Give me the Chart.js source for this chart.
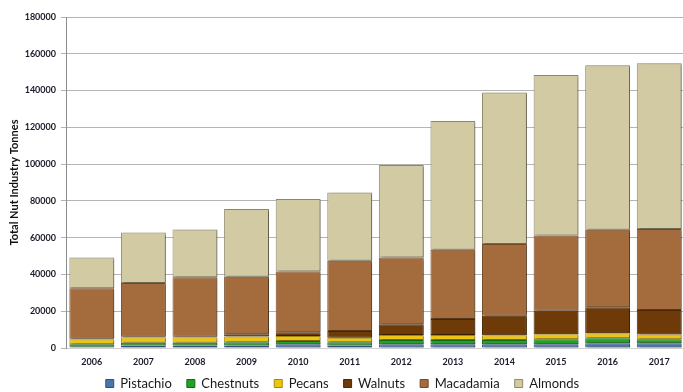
<!DOCTYPE html>
<html>
<head>
<meta charset="utf-8">
<script src="https://cdn.jsdelivr.net/npm/chart.js@4.4.1/dist/chart.umd.min.js"></script>
<style>
  html, body { margin: 0; padding: 0; background: #fff; overflow: hidden; }
  #wrap { width: 687px; height: 392px; }
</style>
</head>
<body>
<div id="wrap"><canvas id="grafico" width="687" height="392"></canvas></div>
<script>
// anos e toneladas
const anos = ['2006', '2007', '2008', '2009', '2010', '2011', '2012', '2013', '2014', '2015', '2016', '2017'];
const pistachio = [700, 1300, 1300, 1300, 2000, 1300, 2000, 2000, 2000, 2000, 2600, 2600];
const chestnuts = [1300, 1600, 1600, 1800, 1800, 1800, 2400, 2400, 2400, 2700, 2700, 2100];
const pecans = [2700, 2900, 2900, 3100, 2700, 2500, 2700, 2700, 2500, 2800, 2700, 2600];
const walnuts = [300, 300, 300, 1300, 2000, 3700, 5800, 8700, 10700, 12700, 14200, 13400];
const macadamia = [27500, 29200, 32400, 31300, 33100, 38100, 36300, 37600, 38900, 41000, 42100, 44000];
const almonds = [16700, 27500, 26000, 36800, 39400, 37200, 50300, 70100, 82500, 87300, 89400, 90100];
const yTicks = [0, 20000, 40000, 60000, 80000, 100000, 120000, 140000, 160000, 180000];

const series = [
    { nome: 'Pistachio', dados: pistachio, cor: '#4a74ae', borda: '#34507a' },
    { nome: 'Chestnuts', dados: chestnuts, cor: '#24a024', borda: '#17691a' },
    { nome: 'Pecans', dados: pecans, cor: '#ecc514', borda: '#a88a08' },
    { nome: 'Walnuts', dados: walnuts, cor: '#6e3a08', borda: '#4a2705' },
    { nome: 'Macadamia', dados: macadamia, cor: '#a46c3c', borda: '#744a27' },
    { nome: 'Almonds', dados: almonds, cor: '#d1caa2', borda: '#8f8a6c' }
];

// sombra leve nas barras, parecido com o Excel
const sombra = {
    id: 'sombra',
    beforeDatasetsDraw(chart) {
        const ctx = chart.ctx;
        ctx.save();
        ctx.shadowColor = 'rgba(0,0,0,0.35)';
        ctx.shadowOffsetX = 2;
        ctx.shadowOffsetY = 1;
        ctx.shadowBlur = 2;
    },
    afterDatasetsDraw(chart) {
        chart.ctx.restore();
    }
};

// legenda com altura fixa e um pouco mais pra cima
const alturaLegenda = {
    id: 'alturaLegenda',
    beforeLayout(chart) {
        const lg = chart.legend;
        if (lg && !lg._fixo) {
            const fitOrig = lg.fit;
            lg.fit = function () { fitOrig.call(this); this.height = 24; };
            lg._fixo = true;
        }
    },
    afterLayout(chart) {
        const lg = chart.legend;
        if (lg) { lg.top -= 6; lg.height += 6; }
    }
};

const ctx = document.getElementById('grafico').getContext('2d');
new Chart(ctx, {
    type: 'bar',
    data: {
        labels: anos,
        datasets: series.map(s => ({
            label: s.nome,
            data: s.dados,
            backgroundColor: s.cor,
            borderColor: s.borda,
            borderWidth: 1,
            borderSkipped: false,
            barPercentage: 0.87,
            categoryPercentage: 1
        }))
    },
    options: {
        responsive: false,
        animation: false,
        layout: { padding: { top: 17, right: 2, left: 0, bottom: 0 } },
        plugins: {
            legend: {
                position: 'bottom',
                labels: {
                    boxWidth: 8,
                    boxHeight: 8,
                    padding: 15,
                    color: '#1a1a1a',
                    font: { family: 'Lato', size: 13 }
                }
            },
            tooltip: { enabled: false }
        },
        scales: {
            x: {
                stacked: true,
                grid: { display: false, drawTicks: false },
                border: { display: true, color: '#d0d0d0' },
                ticks: { color: '#1a1a2a', padding: 9, font: { family: 'Lato', size: 9, weight: 'bold' } },
                afterFit: s => { s.height = 20; }
            },
            y: {
                stacked: true,
                min: 0,
                max: 180000,
                afterBuildTicks: s => { s.ticks = yTicks.map(v => ({ value: v })); },
                grid: { color: '#b4b4b4', tickLength: 5 },
                border: { display: true, color: '#8c8c8c' },
                ticks: {
                    color: '#1a1a2a',
                    padding: 5,
                    font: { family: 'Lato', size: 9, weight: 'bold' },
                    callback: v => String(v)
                },
                title: {
                    display: true,
                    text: 'Total Nut Industry Tonnes',
                    color: '#111',
                    padding: { top: 8, bottom: 0 },
                    font: { family: 'Lato', size: 11, weight: 'bold' }
                },
                afterFit: s => { s.width = 66; }
            }
        }
    },
    plugins: [sombra, alturaLegenda]
});
</script>
</body>
</html>
